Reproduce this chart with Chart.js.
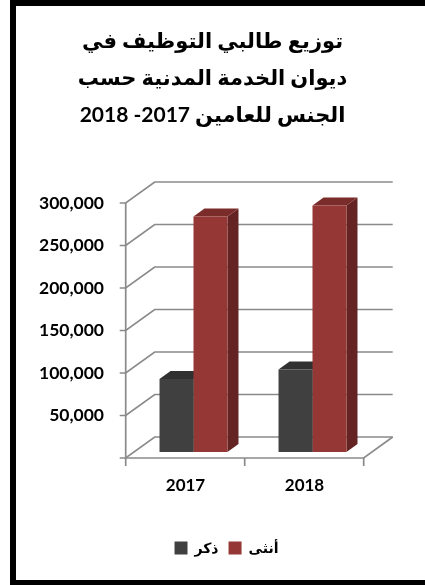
<!DOCTYPE html>
<html><head><meta charset="utf-8">
<script src="https://cdn.jsdelivr.net/npm/chart.js@4.4.1/dist/chart.umd.min.js"></script>
<style>
html,body{margin:0;padding:0;background:#fff;}
#wrap{position:relative;width:425px;height:585px;overflow:hidden;background:#fff;}
#frame{position:absolute;left:10px;top:0;width:430px;height:585px;box-sizing:border-box;border-left:6px solid #000;border-top:6px solid #000;border-bottom:5px solid #000;pointer-events:none;}
canvas{position:absolute;left:0;top:0;}
</style></head><body>
<div id="wrap"><canvas id="c" width="425" height="585"></canvas><div id="frame"></div></div>
<script>
const titleLines = ['توزيع طالبي التوظيف في', 'ديوان الخدمة المدنية حسب', 'الجنس للعامين 2017- 2018'];
const categories = ['2017', '2018'];
const seriesNames = ['ذكر', 'أنثى'];
const maleValues = [86000, 97000];
const femaleValues = [277000, 290000];
const yTickValues = [0, 50000, 100000, 150000, 200000, 250000, 300000];
const yTickLabels = ['', '50,000', '100,000', '150,000', '200,000', '250,000', '300,000'];

const FONT = "Lato, 'DejaVu Sans', sans-serif";
const DEPTH = {x: 29, y: -21};
const F0 = 0.286;
const BD = 0.38;

const threeD = {
  id: 'threeD',
  afterLayout(chart) {
    const lg = chart.legend;
    if (lg) { lg.left += 14; lg.right += 14; }
  },
  beforeDatasetsDraw(chart) {
    const ctx = chart.ctx, a = chart.chartArea, ys = chart.scales.y, xs = chart.scales.x;
    const sx = -F0 * DEPTH.x, sy = -F0 * DEPTH.y;
    const xL = a.left + sx, xR = a.right + sx;
    ctx.save();
    ctx.strokeStyle = '#8a8a8a';
    ctx.lineWidth = 1.7;
    ys.ticks.forEach(t => {
      const y = ys.getPixelForValue(t.value) + sy;
      ctx.beginPath();
      ctx.moveTo(xL - 6, y);
      ctx.lineTo(xL, y);
      ctx.lineTo(xL + DEPTH.x, y + DEPTH.y);
      ctx.lineTo(xR + DEPTH.x, y + DEPTH.y);
      ctx.stroke();
    });
    const y0 = ys.getPixelForValue(0) + sy, yTop = ys.getPixelForValue(ys.max) + sy;
    ctx.beginPath(); ctx.moveTo(xL, yTop); ctx.lineTo(xL, y0); ctx.stroke();
    ctx.beginPath(); ctx.moveTo(xL, y0); ctx.lineTo(xR, y0); ctx.lineTo(xR + DEPTH.x, y0 + DEPTH.y); ctx.stroke();
    const n = xs.ticks.length;
    for (let i = 0; i <= n; i++) {
      const x = xL + (xR - xL) * i / n;
      ctx.beginPath(); ctx.moveTo(x, y0); ctx.lineTo(x, y0 + 8); ctx.stroke();
    }
    const dx = BD * DEPTH.x, dy = BD * DEPTH.y;
    chart.data.datasets.forEach((ds, di) => {
      const meta = chart.getDatasetMeta(di);
      meta.data.forEach(bar => {
        const p = bar.getProps(['x', 'y', 'base', 'width'], true);
        const l = p.x - p.width / 2, r = p.x + p.width / 2;
        ctx.fillStyle = ds.sideColor;
        ctx.beginPath();
        ctx.moveTo(r, p.y); ctx.lineTo(r + dx, p.y + dy); ctx.lineTo(r + dx, p.base + dy); ctx.lineTo(r, p.base);
        ctx.closePath(); ctx.fill();
        ctx.fillStyle = ds.topColor;
        ctx.beginPath();
        ctx.moveTo(l, p.y); ctx.lineTo(r, p.y); ctx.lineTo(r + dx, p.y + dy); ctx.lineTo(l + dx, p.y + dy);
        ctx.closePath(); ctx.fill();
      });
    });
    ctx.restore();
  }
};

Chart.defaults.color = '#000';
new Chart(document.getElementById('c'), {
  type: 'bar',
  data: {
    labels: categories,
    datasets: [
      {label: seriesNames[0], data: maleValues, backgroundColor: '#404040', topColor: '#303030', sideColor: '#282828', borderWidth: 0},
      {label: seriesNames[1], data: femaleValues, backgroundColor: '#953735', topColor: '#7a2c2a', sideColor: '#632423', borderWidth: 0}
    ]
  },
  options: {
    responsive: false,
    animation: false,
    devicePixelRatio: 1,
    layout: {padding: {left: 0, right: 0, top: 0, bottom: 20}},
    datasets: {bar: {categoryPercentage: 0.571, barPercentage: 1}},
    plugins: {
      title: {
        display: true,
        text: titleLines.map(s => '\u202B' + s + '\u202C'),
        font: {family: FONT, size: 21, weight: 'bold', lineHeight: 37 / 21},
        color: '#000',
        padding: {top: 23, bottom: 63}
      },
      legend: {
        position: 'bottom',
        labels: {boxWidth: 13, boxHeight: 13, padding: 10, font: {family: FONT, size: 14, weight: 'bold'}, color: '#000'}
      },
      tooltip: {enabled: false}
    },
    scales: {
      x: {
        grid: {display: false, drawTicks: false},
        border: {display: false},
        ticks: {font: {family: FONT, size: 17, weight: 'bold'}, padding: 23, labelOffset: -8},
        afterFit: s => { s.height = 79; }
      },
      y: {
        min: 0, max: 300000,
        grid: {display: false, drawTicks: false},
        border: {display: false},
        afterBuildTicks: s => { s.ticks = yTickValues.map(v => ({value: v})); },
        ticks: {
          font: {family: FONT, size: 17.5, weight: 'bold'}, padding: 30, labelOffset: 6,
          callback: (v) => yTickLabels[yTickValues.indexOf(v)]
        },
        afterFit: s => { s.width = 134; }
      },
      y2: {
        position: 'right',
        grid: {display: false, drawTicks: false},
        border: {display: false},
        ticks: {display: false},
        afterFit: s => { s.width = 53; }
      }
    }
  },
  plugins: [threeD]
});
</script>
</body></html>
